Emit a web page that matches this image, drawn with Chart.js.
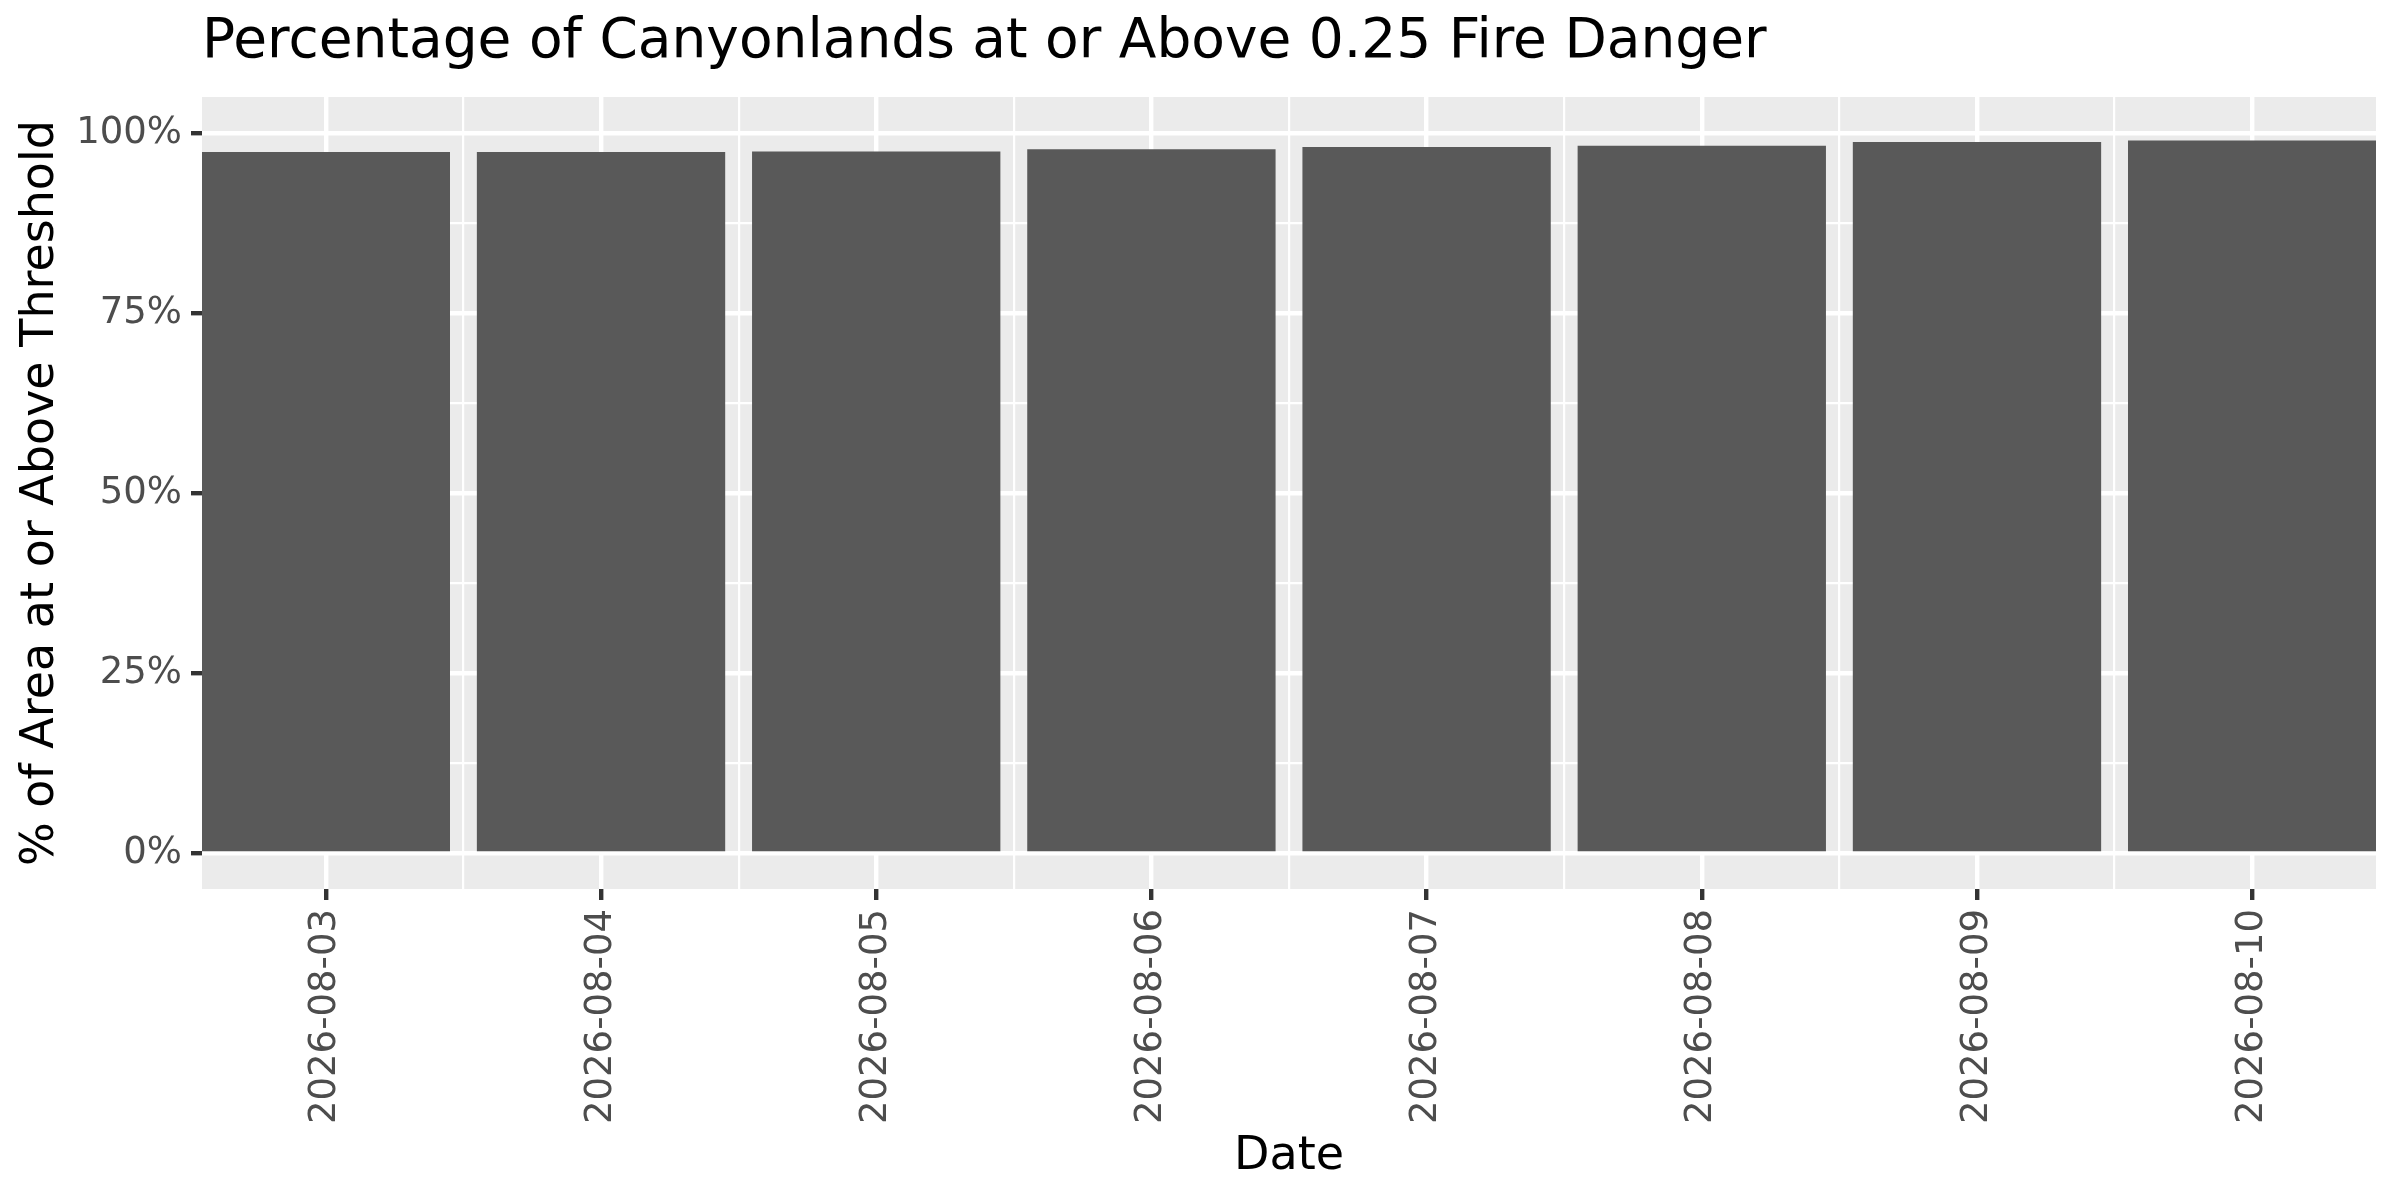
<!DOCTYPE html>
<html>
<head>
<meta charset="utf-8">
<script src="https://cdn.jsdelivr.net/npm/chart.js@4.4.1/dist/chart.umd.min.js"></script>
<style>
  body { margin: 0; background: #ffffff; }
  #fireChart { display: block; }
</style>
</head>
<body>
<canvas id="fireChart" width="2400" height="1200"></canvas>
<script>
// data
const dates = ['2026-08-03', '2026-08-04', '2026-08-05', '2026-08-06', '2026-08-07', '2026-08-08', '2026-08-09', '2026-08-10'];
const pctAbove = [97.3, 97.3, 97.4, 97.7, 98.0, 98.2, 98.7, 98.9];
const yTicks = [0, 12.5, 25, 37.5, 50, 62.5, 75, 87.5, 100];
const xTicks = [1, 1.5, 2, 2.5, 3, 3.5, 4, 4.5, 5, 5.5, 6, 6.5, 7, 7.5, 8];

const panelBg = '#EBEBEB';
const barColor = '#595959';
const tickTextColor = '#4D4D4D';
const font = 'DejaVu Sans';

// grey panel behind the grid, like ggplot's theme_gray
const panelPlugin = {
    id: 'panelBg',
    beforeDraw(chart) {
        const a = chart.chartArea;
        const ctx = chart.ctx;
        ctx.save();
        ctx.fillStyle = panelBg;
        ctx.fillRect(a.left, a.top, a.right - a.left, a.bottom - a.top);
        ctx.restore();
    }
};

const isMajorX = c => c.tick && Number.isInteger(c.tick.value);
const isMajorY = c => c.tick && c.tick.value % 25 === 0;

const ctx = document.getElementById('fireChart').getContext('2d');

new Chart(ctx, {
    type: 'bar',
    data: {
        datasets: [{
            label: '% above threshold',
            data: pctAbove.map((v, i) => ({ x: i + 1, y: v })),
            backgroundColor: barColor,
            borderWidth: 0,
            barThickness: 'flex',
            categoryPercentage: 0.9,
            barPercentage: 1
        }]
    },
    options: {
        responsive: false,
        devicePixelRatio: 1,
        animation: false,
        layout: { padding: { left: 0, right: 24, top: 0, bottom: 0 } },
        plugins: {
            legend: { display: false },
            tooltip: { enabled: false },
            title: {
                display: true,
                text: 'Percentage of Canyonlands at or Above 0.25 Fire Danger',
                align: 'start',
                fullSize: false,
                color: '#000000',
                font: { family: font, size: 55, weight: 'normal', lineHeight: 1.2 },
                padding: { top: 10, bottom: 21 }
            }
        },
        scales: {
            x: {
                type: 'linear',
                offset: false,
                bounds: 'data',
                min: 0.55,
                max: 8.45,
                afterBuildTicks: axis => { axis.ticks = xTicks.map(v => ({ value: v })); },
                afterFit: scale => { scale.height = 311; },
                border: { display: false },
                grid: {
                    offset: false,
                    color: '#FFFFFF',
                    lineWidth: c => isMajorX(c) ? 4.4 : 2.2,
                    tickColor: c => isMajorX(c) ? '#333333' : 'rgba(0,0,0,0)',
                    tickWidth: 4.4,
                    tickLength: 11,
                    drawTicks: true
                },
                ticks: {
                    autoSkip: false,
                    minRotation: 90,
                    maxRotation: 90,
                    padding: 9,
                    color: tickTextColor,
                    font: { family: font, size: 37 },
                    callback: v => Number.isInteger(v) ? dates[v - 1] : ''
                },
                title: {
                    display: true,
                    text: 'Date',
                    color: '#000000',
                    font: { family: font, size: 46 },
                    padding: { top: 0, bottom: 15 }
                }
            },
            y: {
                type: 'linear',
                min: -5,
                max: 105,
                afterBuildTicks: axis => { axis.ticks = yTicks.map(v => ({ value: v })); },
                afterFit: scale => { scale.width = 202; },
                border: { display: false },
                grid: {
                    color: '#FFFFFF',
                    lineWidth: c => isMajorY(c) ? 4.4 : 2.2,
                    tickColor: c => isMajorY(c) ? '#333333' : 'rgba(0,0,0,0)',
                    tickWidth: 4.4,
                    tickLength: 11,
                    drawTicks: true
                },
                ticks: {
                    autoSkip: false,
                    padding: 9,
                    color: tickTextColor,
                    font: { family: font, size: 37 },
                    callback: v => v % 25 === 0 ? v + '%' : ''
                },
                title: {
                    display: true,
                    text: '% of Area at or Above Threshold',
                    color: '#000000',
                    font: { family: font, size: 46 },
                    padding: { top: 13, bottom: 0 }
                }
            }
        }
    },
    plugins: [panelPlugin]
});
</script>
</body>
</html>
